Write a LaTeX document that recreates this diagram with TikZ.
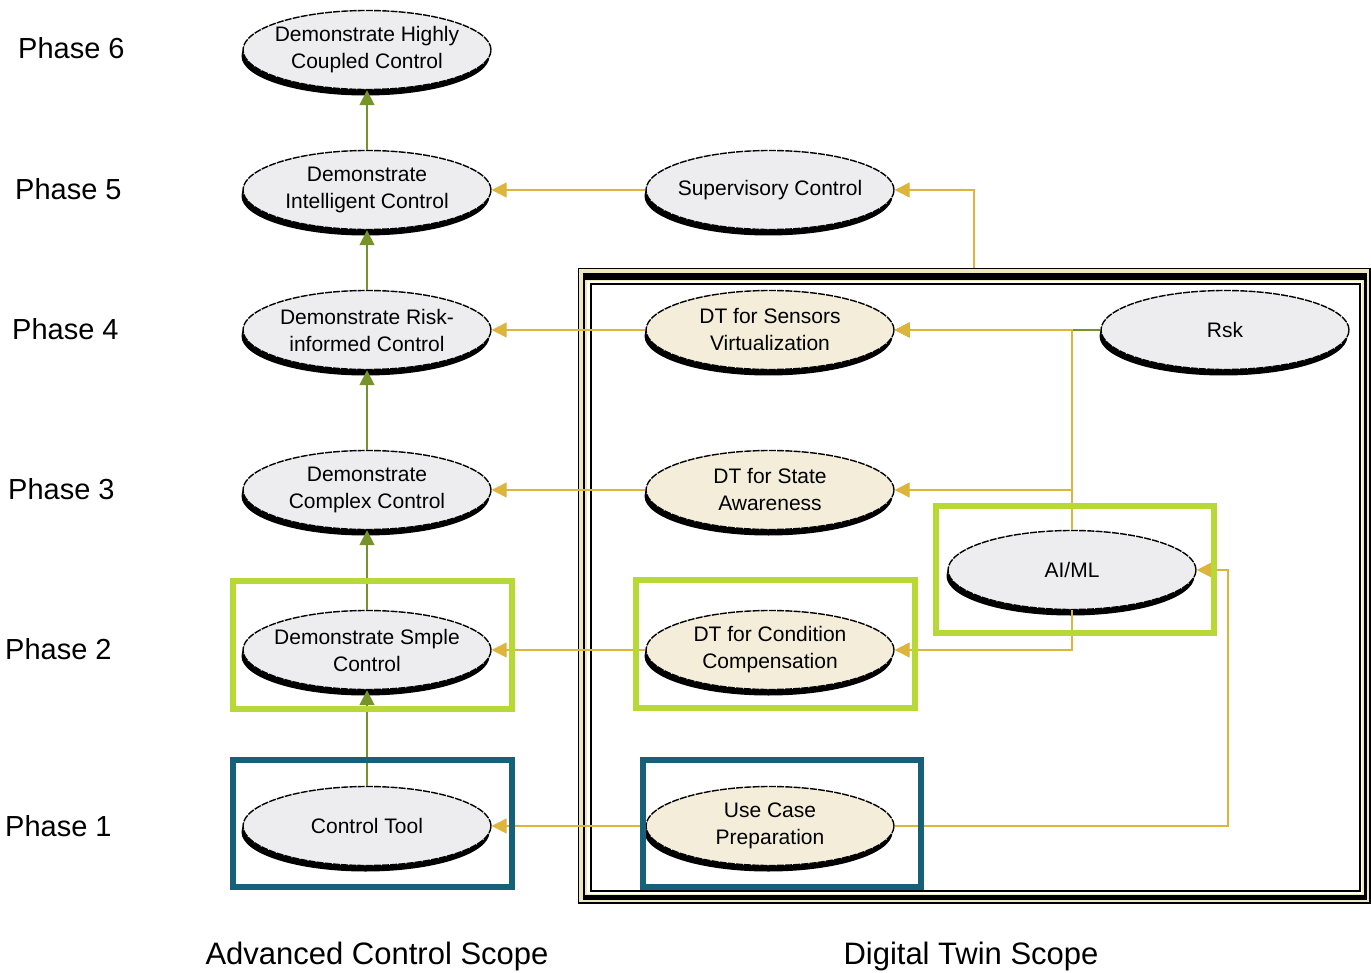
\documentclass[tikz,border=0pt]{standalone}
\usepackage{fontspec}
\setmainfont{Liberation Sans}
\usetikzlibrary{shapes.geometric,arrows.meta,shadows,calc}
\definecolor{grayfill}{HTML}{EDEDEF}
\definecolor{creamfill}{HTML}{F3EDDA}
\definecolor{framecream}{HTML}{EDE8C2}
\definecolor{olivec}{HTML}{76932B}
\definecolor{goldc}{HTML}{DDB43C}
\definecolor{limec}{HTML}{B8D935}
\definecolor{tealc}{HTML}{17607A}
\tikzset{
  oval/.style={ellipse, minimum width=248pt, minimum height=79pt, inner xsep=-30pt, inner ysep=0pt,
    draw=black, line width=1.4pt, dash pattern=on 7pt off 1.2pt, align=center,
    font=\fontsize{21}{27}\selectfont,
    drop shadow={shadow xshift=-1.5pt, shadow yshift=-6pt, fill=black, opacity=1}},
  acs/.style={oval, fill=grayfill},
  dts/.style={oval, fill=creamfill},
  olivearrow/.style={draw=olivec, line width=1.6pt, -{Triangle[length=15pt,width=15pt]}},
  goldarrow/.style={draw=goldc, line width=1.4pt, -{Triangle[length=15pt,width=15pt]}},
  phaselbl/.style={anchor=west, inner sep=0pt, font=\fontsize{29}{32}\selectfont},
  scopelbl/.style={inner sep=0pt, font=\fontsize{31}{34}\selectfont},
  greenbox/.style={draw=limec, line width=6pt},
  bluebox/.style={draw=tealc, line width=6pt}
}
\begin{document}
\begin{tikzpicture}[x=1pt,y=-1pt]
\useasboundingbox (0,0) rectangle (1371,973);
\fill[white] (0,0) rectangle (1371,973);

% Digital twin frame
\draw[black, line width=1.5pt, fill=framecream] (578.5,268.5) rectangle (1369.8,903);
\fill[black] (582.5,273) rectangle (1366.5,899.5);
\fill[framecream] (584.5,280) rectangle (1364,895);
\fill[white] (586.5,281.5) rectangle (1362,893.5);
\draw[black, line width=1.4pt] (591,284) rectangle (1360,891);
\coordinate (dtframe) at (974,268.5);

% Phase labels
\node[phaselbl] (ph6) at (18,48) {Phase 6};
\node[phaselbl] (ph5) at (15,189) {Phase 5};
\node[phaselbl] (ph4) at (12,329) {Phase 4};
\node[phaselbl] (ph3) at (8,489) {Phase 3};
\node[phaselbl] (ph2) at (5,649) {Phase 2};
\node[phaselbl] (ph1) at (5,826) {Phase 1};

% Advanced control column
\node[acs] (p6) at (367,50) {Demonstrate Highly\\Coupled Control};
\node[acs] (p5) at (367,190) {Demonstrate\\Intelligent Control};
\node[acs] (p4) at (367,330) {Demonstrate Risk-\\informed Control};
\node[acs] (p3) at (367,490) {Demonstrate\\Complex Control};
\node[acs] (p2) at (367,650) {Demonstrate Smple\\Control};
\node[acs] (p1) at (367,826) {Control Tool};

% Digital twin column
\node[acs] (sup) at (770,190) {Supervisory Control};
\node[dts] (sens) at (770,330) {DT for Sensors\\Virtualization};
\node[dts] (state) at (770,490) {DT for State\\Awareness};
\node[dts] (cond) at (770,650) {DT for Condition\\Compensation};
\node[dts] (use) at (770,826) {Use Case\\Preparation};

\node[acs] (risk) at (1225,330) {Rsk};
\node[acs] (aiml) at (1072,570) {AI/ML};
\coordinate (bend) at (1228,700);

% Vertical progression
\draw[olivearrow] (p1.north) -- (p2.south);
\draw[olivearrow] (p2.north) -- (p3.south);
\draw[olivearrow] (p3.north) -- (p4.south);
\draw[olivearrow] (p4.north) -- (p5.south);
\draw[olivearrow] (p5.north) -- (p6.south);

% Horizontal links
\draw[goldarrow] (sup.west) -- (p5.east);
\draw[goldarrow] (sens.west) -- (p4.east);
\draw[goldarrow] (state.west) -- (p3.east);
\draw[goldarrow] (cond.west) -- (p2.east);
\draw[goldarrow] (use.west) -- (p1.east);

\draw[goldarrow] (dtframe) |- (sup.east);
\draw[goldarrow, draw=olivec] (risk.west) -- (sens.east);
\draw[goldarrow] (aiml.north) |- (sens.east);
\draw[goldarrow] (aiml.north) |- (state.east);
\draw[goldarrow] (aiml.south) |- (cond.east);
\draw[goldarrow] (use.east) -- (use.east -| bend) |- (aiml.east);

% Highlight boxes
\draw[greenbox] (233,581) rectangle (512,709);
\draw[greenbox] (636,580) rectangle (915,708);
\draw[greenbox] (936,506) rectangle (1214,633);
\draw[bluebox] (233,760) rectangle (512,887);
\draw[bluebox] (643,760) rectangle (921,887);

% Scope labels
\node[scopelbl] (acsl) at (377,956) {Advanced Control Scope};
\node[scopelbl] (dtsl) at (971,956) {Digital Twin Scope};
\end{tikzpicture}
\end{document}
